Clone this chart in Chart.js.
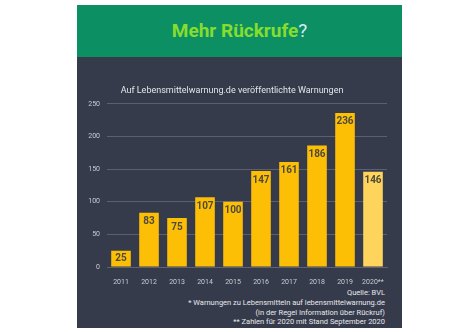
<!DOCTYPE html>
<html>
<head>
<meta charset="utf-8">
<script src="https://cdn.jsdelivr.net/npm/chart.js@4"></script>
<style>
  body { margin: 0; background: #fff; font-family: Roboto, "Noto Sans", sans-serif; }
  #panel { position: absolute; left: 77px; top: 5px; width: 325px; height: 323px; background: #363b4b; }
  #head { height: 52px; background: #0c9063; text-align: center; font-weight: 700; font-size: 19px; line-height: 52px; color: #86dd2e; }
  #head span { color: #d6ecf2; font-weight: 400; }
  #box { position: absolute; left: 0; top: 52px; width: 325px; height: 230px; }
  #notes { position: absolute; right: 17px; top: 283px; text-align: right; font-size: 7.5px; line-height: 9.8px; color: #e6e8ec; }
</style>
</head>
<body>
<div id="panel">
  <div id="head">Mehr Rückrufe<span>?</span></div>
  <div id="box"><canvas id="chart"></canvas></div>
  <div id="notes">
    Quelle: BVL<br>
    * Warnungen zu Lebensmitteln auf lebensmittelwarnung.de<br>
    (in der Regel Information über Rückruf)<br>
    ** Zahlen für 2020 mit Stand September 2020
  </div>
</div>
<script>
// Daten
const years = ['2011', '2012', '2013', '2014', '2015', '2016', '2017', '2018', '2019', '2020**'];
const warnungen = [25, 83, 75, 107, 100, 147, 161, 186, 236, 146];
const yTicks = [0, 50, 100, 150, 200, 250];

const barColors = years.map((y, i) => i === years.length - 1 ? '#ffd45c' : '#fdbf06');

// Werte oben in die Balken schreiben
const valueLabels = {
  id: 'valueLabels',
  afterDatasetsDraw(chart) {
    const ctx = chart.ctx;
    const meta = chart.getDatasetMeta(0);
    ctx.save();
    ctx.font = 'bold 10px Roboto, sans-serif';
    ctx.fillStyle = '#4e4a3c';
    ctx.textAlign = 'center';
    ctx.textBaseline = 'middle';
    meta.data.forEach((bar, i) => {
      const h = bar.base - bar.y;
      const y = h < 22 ? bar.y + h / 2 : bar.y + 9;
      ctx.fillText(warnungen[i], bar.x, y);
    });
    ctx.restore();
  }
};

new Chart(document.getElementById('chart'), {
  type: 'bar',
  data: {
    labels: years,
    datasets: [{
      data: warnungen,
      backgroundColor: barColors,
      borderWidth: 0,
      barPercentage: 0.7,
      categoryPercentage: 1
    }]
  },
  options: {
    responsive: true,
    maintainAspectRatio: false,
    animation: false,
    layout: { padding: { left: 0, right: 15, top: 0, bottom: 0 } },
    plugins: {
      legend: { display: false },
      tooltip: { enabled: false },
      title: {
        display: true,
        text: 'Auf Lebensmittelwarnung.de veröffentlichte Warnungen',
        color: '#e4e6ea',
        font: { size: 9, weight: 'normal', family: 'Roboto, sans-serif' },
        padding: { top: 28, bottom: 8 }
      }
    },
    scales: {
      x: {
        grid: { display: false },
        border: { display: true, color: '#5d6374', width: 1 },
        ticks: { color: '#c9ccd3', font: { size: 7, family: 'Roboto, sans-serif' }, padding: 3 },
        afterFit: s => { s.height = 20; }
      },
      y: {
        min: 0,
        max: 250,
        afterBuildTicks: s => { s.ticks = yTicks.map(v => ({ value: v })); },
        grid: { color: '#5a6072', lineWidth: 1, drawTicks: false },
        border: { display: false },
        ticks: { color: '#c9ccd3', font: { size: 7, family: 'Roboto, sans-serif' }, padding: 7 },
        afterFit: s => { s.width = 30; }
      }
    }
  },
  plugins: [valueLabels]
});
</script>
</body>
</html>
